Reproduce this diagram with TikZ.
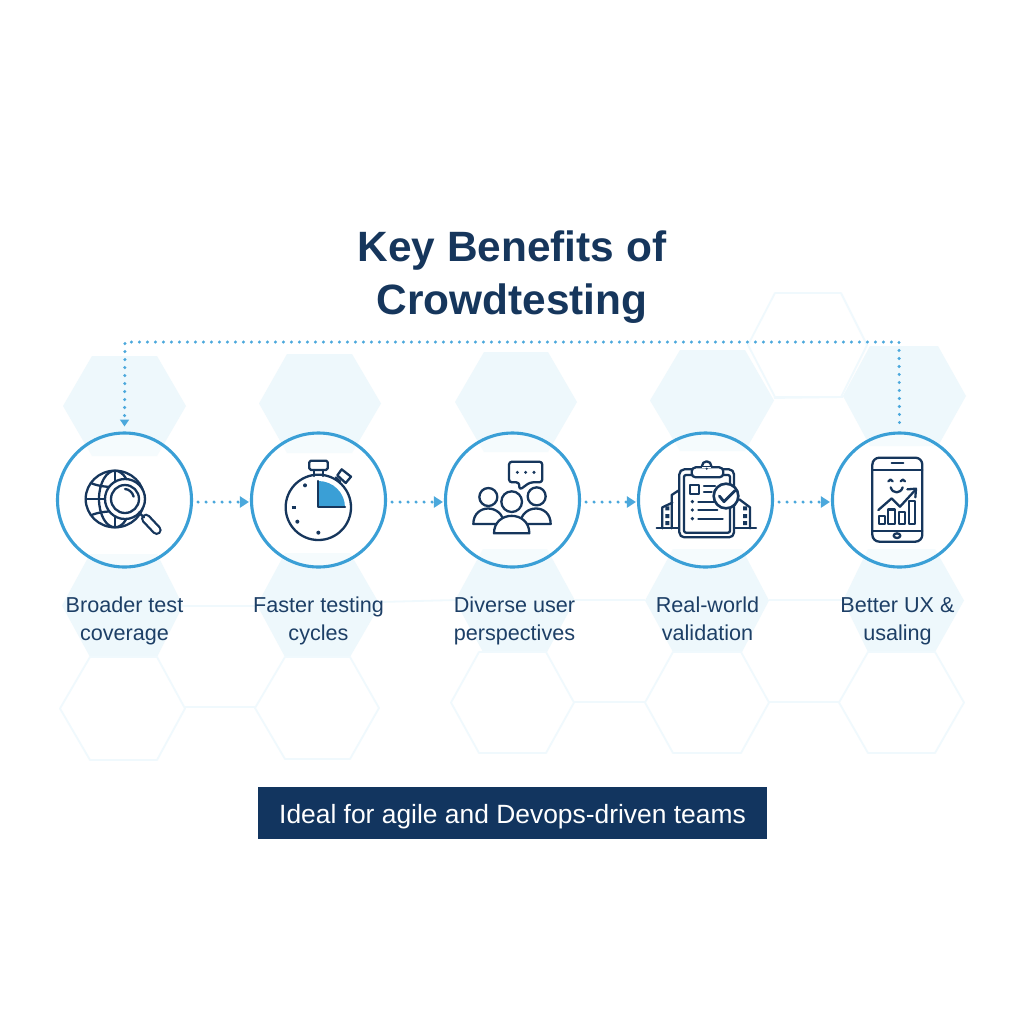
\documentclass[tikz,border=0pt]{standalone}
\usepackage{fontspec}
\setmainfont{Liberation Sans}
\usetikzlibrary{arrows.meta}
\definecolor{navy}{HTML}{16365C}
\definecolor{txt}{HTML}{1D3F66}
\definecolor{ring}{HTML}{3A9FD6}
\definecolor{link}{HTML}{4BA8DC}
\definecolor{hexfill}{HTML}{EEF8FC}
\definecolor{hexline}{HTML}{F0F9FD}
\definecolor{band}{HTML}{12355F}
\newcommand{\hexshape}[7]{% style, left, flatL, flatR, right, top, bottom
  \draw[#1] (#2,{(#6+#7)/2}) -- (#3,#6) -- (#4,#6) -- (#5,{(#6+#7)/2}) -- (#4,#7) -- (#3,#7) -- cycle;}
\tikzset{
  hexsolid/.style={fill=hexfill,draw=none},
  hexopen/.style={draw=hexline,line width=0.9pt,line join=round},
  hexlink/.style={draw=hexline,line width=0.9pt},
  ringnode/.style={circle,draw=ring,line width=1.55pt,fill=white,fill opacity=0.45,draw opacity=1,minimum size=67pt,inner sep=0pt},
  flowdots/.style={draw=link,line width=1.7pt,line cap=round,dash pattern=on 0pt off 4pt,-{Triangle[length=4.5pt,width=5.5pt]}},
  ico/.style={draw=navy,line width=1.15pt,line join=round,line cap=round},
  zoomed/.style={x=0.16667pt,y=-0.16667pt},
  lab/.style={text=txt,font=\fontsize{10.8}{14}\selectfont,align=center,inner sep=0pt},
}
\begin{document}
\begin{tikzpicture}[x=0.5pt,y=-0.5pt]
\useasboundingbox (0,0) rectangle (1024,1024);
\fill[white] (0,0) rectangle (1024,1024);
% top row filled hexagons
\hexshape{hexsolid}{63}{92}{157}{186}{356}{456}
\hexshape{hexsolid}{259}{287}{352}{381}{354}{453}
\hexshape{hexsolid}{455}{484}{548}{577}{352}{452}
\hexshape{hexsolid}{650}{680}{745}{774}{350}{451}
\hexshape{hexsolid}{843}{870}{938}{966}{346}{446}
% upper open hexagon
\hexshape{hexopen}{748}{775}{841}{867}{293}{397}
\draw[hexlink] (774,398) -- (843,397);
% third row
\hexshape{hexsolid}{62}{90}{157}{183}{554}{657}
\hexshape{hexsolid}{257}{285}{350}{380}{553}{657}
\hexshape{hexsolid}{455}{483}{547}{575}{549}{652}
\hexshape{hexsolid}{645}{673}{742}{769}{549}{652}
\hexshape{hexsolid}{843}{868}{935}{964}{549}{652}
\draw[hexlink] (183,606) -- (257,606);
\draw[hexlink] (380,602) -- (455,600);
\draw[hexlink] (575,600) -- (645,600);
\draw[hexlink] (769,600) -- (843,600);
% fourth row
\hexshape{hexopen}{60}{90}{157}{185}{657}{760}
\hexshape{hexopen}{255}{285}{350}{379}{657}{759}
\hexshape{hexopen}{451}{479}{546}{574}{652}{753}
\hexshape{hexopen}{645}{673}{741}{769}{652}{753}
\hexshape{hexopen}{839}{868}{935}{964}{652}{753}
\draw[hexlink] (185,707) -- (255,707);
\draw[hexlink] (574,702) -- (645,702);
\draw[hexlink] (769,702) -- (839,702);
% title
\node[text=navy,font=\fontsize{21.2}{26.6}\selectfont\bfseries,align=center,inner sep=0pt] (title) at (512,277.5) {Key Benefits of\\Crowdtesting};
% circles
\node[ringnode] (c1) at (124.5,500) {};
\node[ringnode] (c2) at (318.5,500) {};
\node[ringnode] (c3) at (512.5,500) {};
\node[ringnode] (c4) at (705.5,500) {};
\node[ringnode] (c5) at (899.5,500) {};
% connectors
\draw[flowdots,shorten <=2.5pt,shorten >=0.5pt] ([yshift=-1pt]c1.east) -- ([yshift=-1pt]c2.west);
\draw[flowdots,shorten <=2.5pt,shorten >=0.5pt] ([yshift=-1pt]c2.east) -- ([yshift=-1pt]c3.west);
\draw[flowdots,shorten <=2.5pt,shorten >=0.5pt] ([yshift=-1pt]c3.east) -- ([yshift=-1pt]c4.west);
\draw[flowdots,shorten <=2.5pt,shorten >=0.5pt] ([yshift=-1pt]c4.east) -- ([yshift=-1pt]c5.west);
\coordinate (turnR) at (899,342);
\coordinate (turnL) at (125,342);
\draw[flowdots,-{Triangle[length=3.4pt,width=4.4pt]}] ([yshift=4.5pt]c5.north) -- (turnR) -- (turnL) -- ([yshift=2.5pt]c1.north);
% icon 1
\begin{scope}[shift={(40,420)},zoomed]
\draw[ico] (225,237) circle [x radius=88,y radius=85];
\draw[ico] (225,237) circle [x radius=48,y radius=85];
\draw[ico] (225,152) -- (225,322);
\draw[ico] (137,237) -- (313,237);
\draw[ico] (155,190) .. controls (190,205) and (260,205) .. (298,190);
\draw[ico] (155,285) .. controls (190,270) and (260,270) .. (298,285);
\draw[ico,fill=white] (255,237) circle (60);
\draw[ico] (255,237) circle (42);
\draw[ico] (255,207) .. controls (267,208) and (277,216) .. (281,230);
\draw[navy,line width=5pt,line cap=round] (318,296) -- (350,330);
\draw[white,line width=2.7pt,line cap=round] (318,296) -- (350,330);
\draw[ico] (296,277) -- (312,292);
\end{scope}
% icon 2
\begin{scope}[shift={(40,420)},zoomed]
\draw[ico,rounded corners=0.8pt] (808,122) rectangle (863,150);
\draw[ico] (822,150) -- (822,168) (850,150) -- (850,168);
\draw[ico] (905,148) -- (933,170) -- (917,189) -- (892,166) -- cycle;
\draw[ico] (887,172) -- (901,185);
\fill[ring] (835,183) .. controls (879,183) and (915,218) .. (915,262) -- (835,262) -- cycle;
\draw[ico] (835,262) circle (98);
\draw[ico] (835,183) -- (835,262) -- (915,262);
\fill[navy] (795,196) circle (6) (772,305) circle (6) (835,338) circle (6);
\draw[navy,line width=1.3pt] (755,262) -- (767,262);
\end{scope}
% icon 3
\begin{scope}[shift={(430,420)},zoomed]
\draw[ico,rounded corners=1.5pt] (300,187) -- (337,187) -- (337,125) -- (237,125) -- (237,187) -- (268,187) -- (268,210) -- cycle;
\fill[navy] (262,157) circle (5) (287,157) circle (5) (312,157) circle (5);
\draw[ico] (175,231) circle (27);
\draw[ico] (320,229) circle (27);
\draw[ico] (130,312) .. controls (130,250) and (218,250) .. (222,312) -- cycle;
\draw[ico] (270,312) .. controls (275,250) and (362,250) .. (362,312) -- cycle;
\draw[ico,fill=white] (192,340) .. controls (192,270) and (298,270) .. (298,340) -- cycle;
\draw[ico,fill=white] (245,245) circle (31);
\end{scope}
% icon 4
\begin{scope}[shift={(430,420)},zoomed]
\draw[ico] (697,325) -- (697,262) -- (727,248);
\draw[ico] (725,325) -- (725,225) -- (748,210);
\draw[ico] (960,325) -- (960,262) -- (928,238);
\draw[ico] (680,325) -- (748,325) (912,325) -- (978,325);
\fill[navy] (706,259) rectangle (718,271) (706,282) rectangle (718,294) (706,303) rectangle (718,315);
\fill[navy] (939,259) rectangle (951,271) (939,282) rectangle (951,294) (939,303) rectangle (951,315);
\draw[ico,rounded corners=2.5pt,fill=white] (748,148) rectangle (912,352);
\draw[ico,rounded corners=1pt] (762,165) rectangle (900,338);
\draw[ico,fill=white] (830,138) circle (14);
\draw[ico,fill=white,rounded corners=2pt] (785,172) -- (785,142) -- (880,142) -- (880,172) -- cycle;
\fill[white] (817,140) rectangle (843,144);
\fill[navy] (830,146) circle (3.5);
\draw[ico] (780,195) rectangle (808,222);
\draw[ico] (822,197) -- (855,197) (822,215) -- (845,215);
\fill[navy] (787,245) circle (5.5) (787,270) circle (5.5) (787,296) circle (5.5);
\draw[ico] (805,245) -- (870,245) (805,270) -- (862,270) (805,296) -- (878,296);
\draw[ico,fill=white,line width=1.3pt] (888,228) circle (37);
\draw[ico,line width=1.4pt] (868,228) -- (882,245) -- (915,212);
\end{scope}
% icon 5
\begin{scope}[shift={(780,280)},zoomed]
\draw[ico,rounded corners=3.5pt] (277,533) rectangle (427,785);
\draw[ico] (277,570) -- (427,570) (277,752) -- (427,752);
\draw[ico] (335,550) -- (370,550);
\draw[ico] (351,767) circle [x radius=10,y radius=7];
\draw[ico] (325,604) .. controls (328,597) and (335,597) .. (338,604);
\draw[ico] (362,604) .. controls (365,597) and (372,597) .. (375,604);
\draw[ico] (332,622) .. controls (338,642) and (362,642) .. (368,622);
\draw[ico] (295,690) -- (335,655) -- (360,680) -- (404,632);
\draw[ico] (382,628) -- (408,626) -- (406,652);
\draw[ico] (296,707) rectangle (315,732);
\draw[ico] (325,688) rectangle (345,732);
\draw[ico] (356,695) rectangle (375,732);
\draw[ico] (387,663) rectangle (406,732);
\end{scope}
% labels
\node[lab] (l1) at (124.5,621) {\strut Broader test\\\strut coverage};
\node[lab] (l2) at (318.5,621) {\strut Faster testing\\\strut cycles};
\node[lab] (l3) at (514.5,621) {\strut Diverse user\\\strut perspectives};
\node[lab] (l4) at (707.5,621) {\strut Real-world\\\strut validation};
\node[lab] (l5) at (897.5,621) {\strut Better UX \&\\\strut usaling};
% banner
\node[fill=band,minimum width=254.5pt,minimum height=26pt,inner sep=0pt,text=white,text height=13pt,text depth=3pt,font=\fontsize{13.2}{15}\selectfont] (banner) at (512.5,813) {Ideal for agile and Devops-driven teams};
\end{tikzpicture}
\end{document}
